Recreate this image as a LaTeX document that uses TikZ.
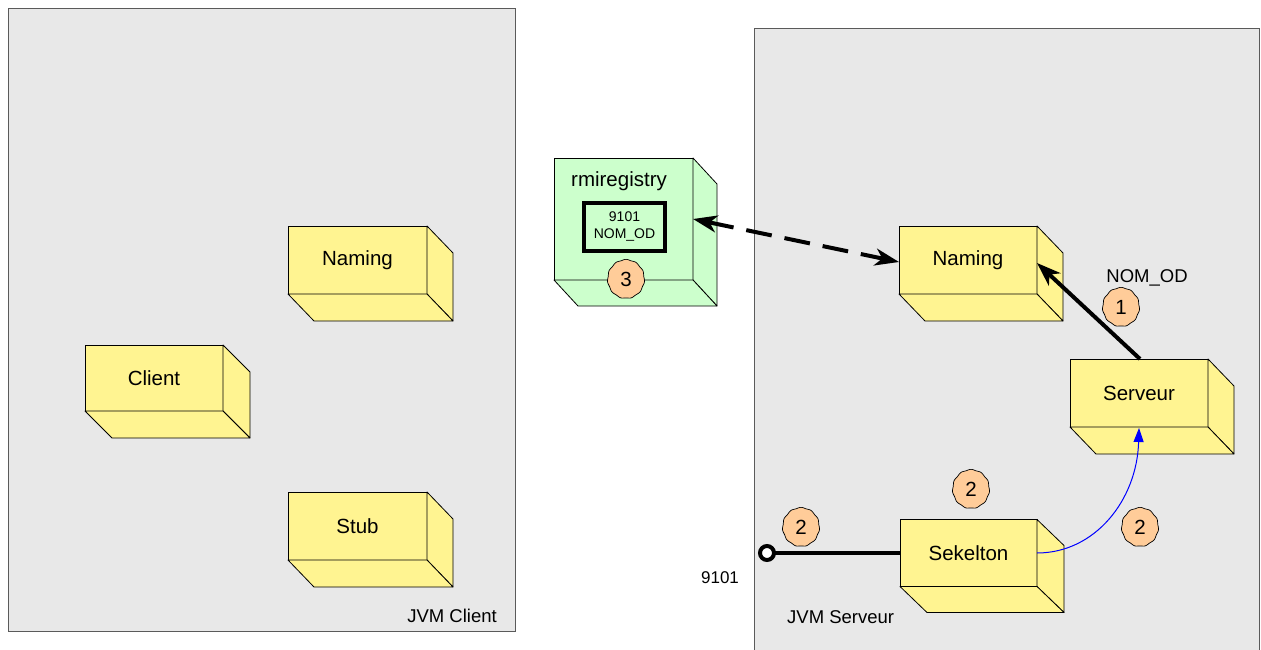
\documentclass[tikz,border=0pt]{standalone}
\usepackage{fontspec}
\setmainfont{Liberation Sans}
\usetikzlibrary{arrows.meta}
\definecolor{panelgray}{RGB}{232,232,232}
\definecolor{paneledge}{RGB}{90,90,90}
\definecolor{boxyellow}{RGB}{255,244,145}
\definecolor{boxgreen}{RGB}{204,255,204}
\definecolor{sealorange}{RGB}{255,204,153}
\tikzset{
  panel/.style={fill=panelgray, draw=paneledge, line width=0.9pt},
  cube/.style={rectangle, draw=black, line width=0.8pt, fill=boxyellow, inner sep=0pt, outer sep=0pt, font=\fontsize{20.5}{24}\selectfont},
  label/.style={inner sep=0pt, font=\fontsize{18.5}{22}\selectfont},
  sealnum/.style={circle, inner sep=0pt, minimum size=36pt, font=\fontsize{20.5}{24}\selectfont},
  thickarrow/.style={line width=4pt, -{Stealth[length=24pt,width=17pt,inset=7pt]}},
}
\newcommand\cubedepth[4]{% node, dx, dy, colour
  \filldraw[fill=#4, draw=black, line width=0.8pt, line join=round]
    (#1.north east) -- ++(#2,#3) -- ([shift={(#2,#3)}]#1.south east) -- (#1.south east) -- cycle;
  \filldraw[fill=#4, draw=black, line width=0.8pt, line join=round]
    (#1.south west) -- ++(#2,#3) -- ([shift={(#2,#3)}]#1.south east) -- (#1.south east) -- cycle;
}
\newcommand\sealshape[2]{% centre x, centre y
  \filldraw[fill=sealorange, draw=black, line width=0.7pt]
    plot[variable=\t, domain=0:357, samples=120, smooth]
    ({#1+(18.3+0.35*sin(11*\t))*cos(\t)}, {#2+(19.3+0.35*sin(11*\t))*sin(\t)}) -- cycle;
}
\begin{document}
\begin{tikzpicture}[x=1pt, y=-1pt]
\useasboundingbox (0,0) rectangle (1261,650);
% panels
\draw[panel] (8,8) rectangle (515,631);
\fill[panelgray] (754,28) rectangle (1259,650);
\draw[paneledge, line width=0.9pt] (754,652) -- (754,28) -- (1259,28) -- (1259,652);
\node[label, anchor=east] (jvmc) at (497,616) {JVM Client};
\node[label, anchor=west] (jvms) at (787,617) {JVM Serveur};
% client-side boxes
\node[cube, minimum width=138pt, minimum height=66pt] (client) at (154,378) {Client\hspace{4pt}};
\cubedepth{client}{27}{27}{boxyellow}
\node[cube, minimum width=139pt, minimum height=68pt] (namingL) at (357.5,260) {Naming\hspace{5pt}};
\cubedepth{namingL}{26}{27}{boxyellow}
\node[cube, minimum width=139pt, minimum height=68pt] (stub) at (357.5,526) {Stub};
\cubedepth{stub}{26}{27}{boxyellow}
% rmiregistry
\node[cube, fill=boxgreen, minimum width=139pt, minimum height=122pt] (rmi) at (623.5,219) {};
\cubedepth{rmi}{24}{26}{boxgreen}
\node[label, font=\fontsize{20.5}{24}\selectfont] (rmilabel) at (619,181) {rmiregistry};
\node[draw=black, line width=4pt, minimum width=81pt, minimum height=48pt, inner sep=0pt, align=center, font=\fontsize{14}{17}\selectfont] (port) at (624.5,227) {9101\\NOM\_OD};
% server-side boxes
\node[cube, minimum width=138pt, minimum height=68pt] (namingR) at (968,260) {Naming\hspace{5pt}};
\cubedepth{namingR}{26}{27}{boxyellow}
\node[cube, minimum width=138pt, minimum height=68pt] (serveur) at (1139,393) {Serveur\hspace{4pt}};
\cubedepth{serveur}{26}{27}{boxyellow}
\node[cube, minimum width=137pt, minimum height=67pt] (sekelton) at (968.5,553) {Sekelton\hspace{6pt}};
\cubedepth{sekelton}{27}{26}{boxyellow}
% seals
\sealshape{626}{279}
\node[sealnum] (s3) at (626,279) {3};
\sealshape{1121}{307}
\node[sealnum] (s1) at (1121,307) {1};
\sealshape{971}{489}
\node[sealnum] (s2a) at (971,489) {2};
\sealshape{801}{527}
\node[sealnum] (s2b) at (801,527) {2};
\sealshape{1140}{527}
\node[sealnum] (s2c) at (1140,527) {2};
% texts
\node[label] (nomod) at (1147,278) {NOM\_OD};
\node[label, font=\fontsize{17}{20}\selectfont] (p9101) at (720,578) {9101};
% connectors
\coordinate (rmiR) at (693,219);
\coordinate (namR) at (899,262);
\draw[line width=4pt, dash pattern=on 26pt off 13pt, {Stealth[length=24pt,width=17pt,inset=7pt]}-{Stealth[length=24pt,width=17pt,inset=7pt]}] (rmiR) -- (namR);
\coordinate (servTop) at (1140,359);
\coordinate (namEdge) at (1037,263);
\draw[thickarrow] (servTop) -- (namEdge);
\coordinate (sekR) at (1037,553);
\coordinate (servBot) at (1139,428);
\draw[blue, line width=1pt, -{Triangle[length=14pt,width=10pt]}] (sekR) .. controls (1095,553) and (1137,500) .. (servBot);
\node[circle, draw=black, fill=white, line width=4pt, minimum size=14pt, inner sep=0pt, outer sep=0pt] (portend) at (767,553) {};
\draw[line width=4pt] (portend.east) -- (sekelton.west);
\end{tikzpicture}
\end{document}
